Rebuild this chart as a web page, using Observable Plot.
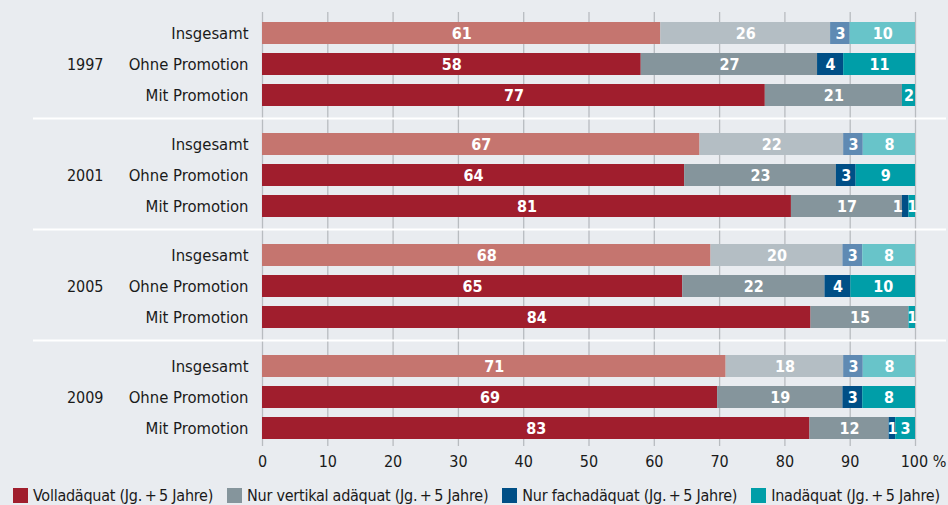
<!DOCTYPE html>
<html><head><meta charset="utf-8">
<script src="https://cdn.jsdelivr.net/npm/d3@7"></script>
<script src="https://cdn.jsdelivr.net/npm/@observablehq/plot@0.6"></script>
<style>
body{margin:0;background:#e9ecf0;width:948px;height:505px;overflow:hidden;font-family:"Liberation Sans Narrow","DejaVu Sans Condensed",sans-serif;color:#1a1a1a;}
#legend{display:flex;height:28px;box-sizing:border-box;padding-top:8px;padding-left:13px;gap:14px;align-items:center;}
.item{display:flex;align-items:center;font-size:16px;letter-spacing:-0.25px;white-space:nowrap;}
.sw{width:15px;height:15px;margin-right:5px;flex:none;}
</style></head><body><div id="chart"></div><div id="legend"></div>
<script>
const years = ["1997", "2001", "2005", "2009"];
const groups = ["Insgesamt", "Ohne Promotion", "Mit Promotion"];
const series = ["Volladäquat (Jg.\u2009+\u20095 Jahre)", "Nur vertikal adäquat (Jg.\u2009+\u20095 Jahre)", "Nur fachadäquat (Jg.\u2009+\u20095 Jahre)", "Inadäquat (Jg.\u2009+\u20095 Jahre)"];
// values in order: year x group
const volladaequat = [61, 58, 77, 67, 64, 81, 68, 65, 84, 71, 69, 83];
const vertikal     = [26, 27, 21, 22, 23, 17, 20, 22, 15, 18, 19, 12];
const fach         = [3, 4, 0, 3, 3, 1, 3, 4, 0, 3, 3, 1];
const inadaequat   = [10, 11, 2, 8, 9, 1, 8, 10, 1, 8, 8, 3];
const tickValues = [0, 10, 20, 30, 40, 50, 60, 70, 80, 90, 100];
const darkColors  = ["#a01e2d", "#85959c", "#004f86", "#009ea8"];
const lightColors = ["#c5756f", "#b4bec4", "#5f8ab3", "#68c4c9"];

const seriesValues = [volladaequat, vertikal, fach, inadaequat];
const data = [];
years.forEach((year, yi) => groups.forEach((group, gi) => seriesValues.forEach((vals, si) => {
  const idx = yi * 3 + gi;
  const value = vals[idx];
  // a 1-wide "fach" label next to a 1-wide "inadäquat" label is nudged left, as in the original
  const crowded = si === 2 && value <= 1 && inadaequat[idx] <= 1;
  if (value > 0) data.push({year, group, series: series[si], si, value, crowded});
})));
const fillOf = d => (d.group === "Insgesamt" ? lightColors : darkColors)[d.si];
const grid = ys => ys.flatMap(year => tickValues.map(t => ({year, t})));
const gridStyle = {x: d => d.t / 100, fy: "year", stroke: "#b8bcc0", strokeWidth: 1.3};
const font = '"Liberation Sans Narrow","DejaVu Sans Condensed",sans-serif';
const stackOpts = {offset: "normalize", order: series, x: "value", y: "group", fy: "year", z: "series"};
const labelStyle = {fill: "white", fontWeight: "bold", fontSize: 16};

const chart = Plot.plot({
  width: 948, height: 477,
  marginLeft: 262, marginRight: 33, marginTop: 7, marginBottom: 26,
  style: {background: "#e9ecf0", fontFamily: font, color: "#1a1a1a", overflow: "visible"},
  x: {domain: [0, 1], label: null},
  y: {domain: groups, paddingInner: 0.3, paddingOuter: 0.412, align: 0.54, label: null},
  fy: {domain: years, padding: 0, axis: null, label: null},
  marks: [
    Plot.ruleX(grid(["1997"]), {...gridStyle, insetTop: 5}),
    Plot.ruleX(grid(["2001", "2005"]), gridStyle),
    Plot.ruleX(grid(["2009"]), {...gridStyle, insetBottom: 5}),
    Plot.ruleY(years.slice(0, 3), {fy: d => d, y: () => "Mit Promotion", dy: 23, stroke: "white", strokeWidth: 2, insetLeft: -229, insetRight: -31}),
    Plot.barX(data, Plot.stackX({...stackOpts, fill: fillOf})),
    Plot.text(data, Plot.stackX({...stackOpts, text: d => d.crowded ? "" : String(d.value), ...labelStyle})),
    Plot.text(data, Plot.stackX({...stackOpts, text: d => d.crowded ? String(d.value) : "", ...labelStyle, dx: -8})),
    Plot.text(years, {fy: d => d, y: () => "Ohne Promotion", text: d => d, frameAnchor: "left", textAnchor: "end", dx: -159, fontSize: 16}),
    Plot.axisY({tickSize: 0, tickPadding: 14, fontSize: 16.5, label: null}),
    Plot.axisX(tickValues.slice(0, -1).map(t => t / 100), {tickSize: 0, tickPadding: 4, tickFormat: d => String(Math.round(d * 100)), fontSize: 16, label: null}),
    Plot.axisX([1], {tickSize: 0, tickPadding: 4, tickFormat: () => "100 %", fontSize: 16, dx: 8, label: null})
  ]
});
document.getElementById("chart").appendChild(chart);

const legend = document.getElementById("legend");
series.forEach((s, i) => {
  const item = document.createElement("div");
  item.className = "item";
  item.innerHTML = `<span class="sw" style="background:${darkColors[i]}"></span><span>${s}</span>`;
  legend.appendChild(item);
});
</script></body></html>
